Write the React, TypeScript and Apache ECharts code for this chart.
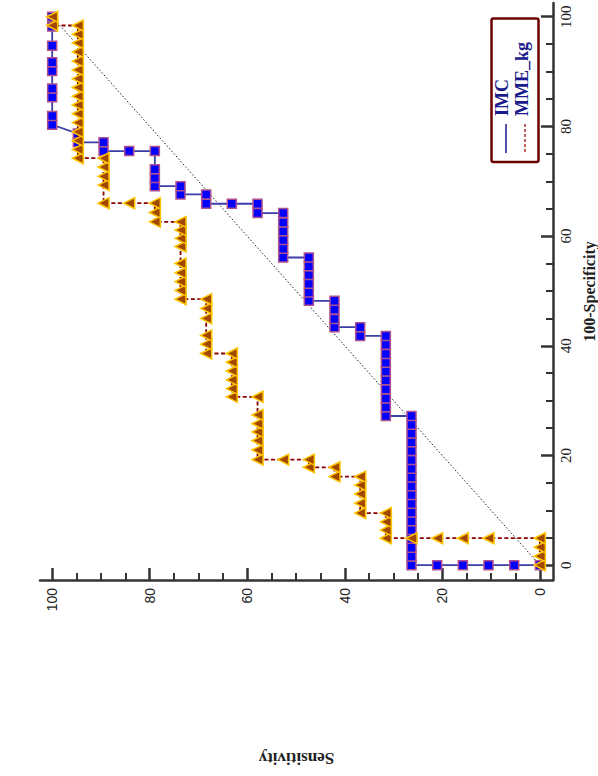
import React, { useEffect, useRef } from "react";
import * as echarts from "echarts";

// [100-Specificity, Sensitivity]
const imcPoints: [number, number][] = [
  [0, 0], [0, 5.26], [0, 10.53], [0, 15.79], [0, 21.05], [0, 26.32],
  [1.6, 26.32], [3.2, 26.32], [4.8, 26.32], [6.4, 26.32], [8.0, 26.32], [9.6, 26.32],
  [11.2, 26.32], [12.8, 26.32], [14.4, 26.32], [16.0, 26.32], [17.6, 26.32], [19.2, 26.32],
  [20.8, 26.32], [22.4, 26.32], [24.0, 26.32], [25.6, 26.32], [27.2, 26.32],
  [27.2, 31.58], [28.8, 31.58], [30.4, 31.58], [32.1, 31.58], [33.7, 31.58], [35.3, 31.58],
  [36.9, 31.58], [38.5, 31.58], [40.2, 31.58], [41.8, 31.58],
  [41.8, 36.84], [43.4, 36.84],
  [43.4, 42.11], [44.9, 42.11], [46.6, 42.11], [48.2, 42.11],
  [48.2, 47.37], [49.7, 47.37], [51.3, 47.37], [52.9, 47.37], [54.5, 47.37], [56.1, 47.37],
  [56.1, 52.63], [57.7, 52.63], [59.3, 52.63], [60.9, 52.63], [62.5, 52.63], [64.2, 52.63],
  [64.2, 57.89], [65.9, 57.89],
  [65.9, 63.16],
  [65.9, 68.42], [67.6, 68.42],
  [67.6, 73.68], [69.1, 73.68],
  [69.1, 78.95], [70.6, 78.95], [72.2, 78.95], [75.5, 78.95],
  [75.5, 84.21],
  [75.5, 89.47], [77.1, 89.47],
  [77.1, 94.74], [78.7, 94.74],
  [80.3, 100], [81.9, 100], [85.3, 100], [86.9, 100], [90.1, 100], [91.7, 100],
  [94.7, 100], [98.2, 100], [100, 100],
];

const mmePoints: [number, number][] = [
  [0, 0], [1.64, 0], [3.28, 0], [4.92, 0],
  [4.92, 10.53], [4.92, 15.79], [4.92, 21.05], [4.92, 26.32], [4.92, 31.58],
  [6.4, 31.58], [7.9, 31.58], [9.5, 31.58],
  [9.5, 36.84], [11.3, 36.84], [13.0, 36.84], [14.6, 36.84], [16.15, 36.84],
  [16.15, 42.11], [17.85, 42.11],
  [17.85, 47.37], [19.25, 47.37],
  [19.25, 52.63],
  [19.25, 57.89], [21.0, 57.89], [22.7, 57.89], [24.3, 57.89], [25.8, 57.89], [27.4, 57.89], [30.7, 57.89],
  [30.7, 63.16], [32.2, 63.16], [33.8, 63.16], [35.4, 63.16], [37.0, 63.16], [38.6, 63.16],
  [38.6, 68.42], [40.3, 68.42], [41.9, 68.42], [45.0, 68.42], [46.8, 68.42], [48.5, 68.42],
  [48.5, 73.68], [50.1, 73.68], [51.7, 73.68], [53.3, 73.68], [55.0, 73.68],
  [58.1, 73.68], [59.6, 73.68], [61.1, 73.68], [62.6, 73.68],
  [62.6, 78.95], [64.3, 78.95], [66.0, 78.95],
  [66.0, 84.21],
  [66.0, 89.47], [69.3, 89.47], [70.9, 89.47], [72.6, 89.47], [74.2, 89.47],
  [74.2, 94.74], [75.8, 94.74], [77.4, 94.74], [79.0, 94.74], [80.7, 94.74], [82.3, 94.74],
  [83.9, 94.74], [85.5, 94.74], [87.1, 94.74], [88.7, 94.74], [90.3, 94.74], [91.9, 94.74],
  [93.6, 94.74], [95.2, 94.74], [96.8, 94.74], [98.4, 94.74],
  [98.4, 100], [100, 100],
];

const diagonalPoints: [number, number][] = [[0, 0], [100, 100]];
const majorTicks = [0, 20, 40, 60, 80, 100];
const minorTicks = [5, 10, 15, 25, 30, 35, 45, 50, 55, 65, 70, 75, 85, 90, 95];
const seriesNames = ["IMC", "MME_kg"];
const axisNames = { x: "100-Specificity", y: "Sensitivity" };

export default function App() {
  const ref = useRef<HTMLDivElement>(null);

  useEffect(() => {
    if (!ref.current) return;
    const chart = echarts.init(ref.current, null, { renderer: "svg" });
    // the chart is shown rotated: sensitivity runs horizontally (100 at left),
    // 100-specificity runs vertically on the right
    const toXY = (p: [number, number]) => [p[1], p[0]];
    const axisMin = -2.7;
    const axisMax = 102.5;
    const axisColor = "#333";
    const serif = "'Liberation Serif', 'Times New Roman', serif";

    const majorTick = { show: true, inside: true, length: 12, customValues: majorTicks, lineStyle: { color: axisColor, width: 2.5 } };
    const minorTick = { show: true, inside: true, length: 7, customValues: minorTicks, lineStyle: { color: axisColor, width: 2 } };

    chart.setOption({
      animation: false,
      backgroundColor: "#ffffff",
      grid: { left: 40, right: 45, top: 3, bottom: 196, outerBoundsMode: "none" },
      xAxis: [
        {
          type: "value",
          min: axisMin,
          max: axisMax,
          inverse: true,
          position: "bottom",
          splitLine: { show: false },
          axisLine: { show: true, onZero: false, lineStyle: { color: axisColor, width: 2.5 } },
          axisTick: majorTick,
          name: axisNames.y,
          nameLocation: "middle",
          nameRotate: 180,
          nameGap: 170,
          nameTextStyle: { fontFamily: serif, fontWeight: "bold", fontSize: 17, color: "#222" },
          axisLabel: {
            show: true,
            customValues: majorTicks,
            rotate: 90,
            margin: 8,
            fontFamily: "'Liberation Sans', Arial, sans-serif",
            fontSize: 14,
            color: "#222",
          },
        },
        {
          type: "value",
          min: axisMin,
          max: axisMax,
          inverse: true,
          position: "bottom",
          splitLine: { show: false },
          axisLine: { show: false, onZero: false },
          axisLabel: { show: false },
          axisTick: minorTick,
        },
      ],
      yAxis: [
        {
          type: "value",
          min: axisMin,
          max: axisMax,
          position: "right",
          splitLine: { show: false },
          axisLine: { show: true, onZero: false, lineStyle: { color: axisColor, width: 2.5 } },
          axisTick: majorTick,
          name: axisNames.x,
          nameLocation: "middle",
          nameRotate: 90,
          nameGap: 28,
          nameTextStyle: { fontFamily: serif, fontWeight: "bold", fontSize: 16, lineHeight: 16, color: "#222" },
          axisLabel: {
            show: true,
            customValues: majorTicks,
            rotate: 90,
            margin: 5,
            fontFamily: serif,
            fontSize: 15,
            color: "#222",
          },
        },
        {
          type: "value",
          min: axisMin,
          max: axisMax,
          position: "right",
          offset: 0,
          splitLine: { show: false },
          axisLine: { show: false, onZero: false },
          axisLabel: { show: false },
          axisTick: minorTick,
        },
      ],
      series: [
        {
          type: "line",
          name: "diagonal",
          data: diagonalPoints.map(toXY),
          symbol: "none",
          silent: true,
          z: 1,
          lineStyle: { color: "#222", width: 1, type: [1.5, 2] },
        },
        {
          type: "line",
          name: seriesNames[0],
          data: imcPoints.map(toXY),
          symbol: "rect",
          symbolSize: 9,
          z: 2,
          itemStyle: { color: "#0000ff", borderColor: "#b0508f", borderWidth: 1.5 },
          lineStyle: { color: "#3d3da8", width: 1.8 },
        },
        {
          type: "line",
          name: seriesNames[1],
          data: mmePoints.map(toXY),
          symbol: "triangle",
          symbolRotate: 90,
          symbolSize: 11,
          z: 3,
          itemStyle: { color: "#a04800", borderColor: "#ffc400", borderWidth: 1.5 },
          lineStyle: { color: "#8b0000", width: 1.8, type: [4, 2.5] },
        },
      ],
      graphic: [
        {
          type: "rect",
          z: 10,
          shape: { x: 491.5, y: 18.5, width: 47, height: 143.5, r: 2 },
          style: { fill: "#ffffff", stroke: "#6b0000", lineWidth: 2.5 },
        },
        {
          type: "line",
          z: 11,
          shape: { x1: 506, y1: 124, x2: 506, y2: 153 },
          style: { stroke: "#1a1a8c", lineWidth: 1.5 },
        },
        {
          type: "line",
          z: 11,
          shape: { x1: 525, y1: 124, x2: 525, y2: 153 },
          style: { stroke: "#b03030", lineWidth: 1.5, lineDash: [3, 2] },
        },
        {
          type: "text",
          z: 11,
          x: 502,
          y: 116,
          rotation: Math.PI / 2,
          style: {
            text: seriesNames[0],
            fill: "#1a1a8c",
            font: `bold 18px ${serif}`,
            textAlign: "left",
            textVerticalAlign: "middle",
          },
        },
        {
          type: "text",
          z: 11,
          x: 522,
          y: 116,
          rotation: Math.PI / 2,
          style: {
            text: seriesNames[1],
            fill: "#1a1a8c",
            font: `bold 18px ${serif}`,
            textAlign: "left",
            textVerticalAlign: "middle",
          },
        },
      ],
    });

    return () => chart.dispose();
  }, []);

  return (
    <div
      ref={ref}
      style={{ position: "absolute", left: 0, top: 0, width: 598, height: 776, background: "#fff" }}
    />
  );
}
